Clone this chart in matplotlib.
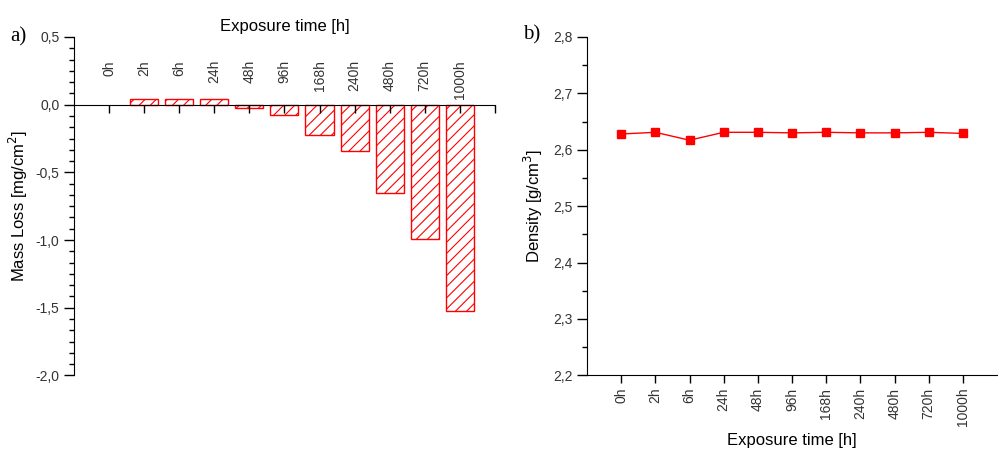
import matplotlib

matplotlib.use("Agg")
import matplotlib.pyplot as plt
from matplotlib.ticker import FixedLocator, FuncFormatter, MultipleLocator

plt.rcParams["font.family"] = ["Liberation Sans", "DejaVu Sans"]
plt.rcParams["hatch.linewidth"] = 0.8

times = ["0h", "2h", "6h", "24h", "48h", "96h", "168h", "240h", "480h", "720h", "1000h"]
mass_loss = [0.0, 0.044, 0.044, 0.044, -0.027, -0.079, -0.221, -0.342, -0.652, -0.994, -1.528]
density = [2.628, 2.631, 2.617, 2.631, 2.631, 2.630, 2.631, 2.630, 2.630, 2.631, 2.629]

RED = "#ff0000"
TICK_COLOR = "#333333"


def comma_fmt(v, _pos):
    return f"{v:.1f}".replace(".", ",")


fig = plt.figure(figsize=(9.98, 4.49), dpi=100)
ax1 = fig.add_axes([0.0741, 0.164, 0.4218, 0.7536])
ax2 = fig.add_axes([0.5882, 0.164, 0.4108, 0.7536])

idx = list(range(len(times)))

# a) mass loss bars (a zero value draws no bar)
bar_idx = [i for i, v in zip(idx, mass_loss) if v != 0]
bar_val = [v for v in mass_loss if v != 0]
ax1.bar(bar_idx, bar_val, width=0.8, facecolor="white", edgecolor=RED,
        hatch="///", linewidth=1.0)
ax1.set_xlim(-1, len(times))
ax1.set_ylim(-2.0, 0.5)
ax1.spines["top"].set_visible(False)
ax1.spines["right"].set_visible(False)
ax1.spines["bottom"].set_position(("data", 0))
ax1.xaxis.set_major_locator(FixedLocator(list(range(len(times) + 1))))
ax1.tick_params(axis="x", labelbottom=False, direction="out", length=6, width=1)
for i, t in enumerate(times):
    ax1.text(i, 0.33, t, rotation=90, ha="center", va="top",
             fontsize=10, color=TICK_COLOR)
ax1.yaxis.set_major_locator(MultipleLocator(0.5))
ax1.yaxis.set_minor_locator(MultipleLocator(0.5 / 6))
ax1.yaxis.set_major_formatter(FuncFormatter(comma_fmt))
ax1.tick_params(axis="y", which="major", length=7, width=1, labelsize=10,
                labelcolor=TICK_COLOR)
ax1.tick_params(axis="y", which="minor", length=3.5, width=1)
ax1.set_ylabel("Mass Loss [mg/cm$^2$]", fontsize=12, labelpad=4)
ax1.set_title("Exposure time [h]", fontsize=12, pad=4)
fig.text(0.01, 0.918, "a)", family="Liberation Serif", fontsize=15, va="center")

# b) density
ax2.plot(idx, density, color=RED, linewidth=1.0, marker="s", markersize=6,
         markerfacecolor=RED, markeredgecolor=RED)
ax2.set_xlim(-1, len(times))
ax2.set_ylim(2.2, 2.8)
ax2.spines["top"].set_visible(False)
ax2.spines["right"].set_visible(False)
ax2.xaxis.set_major_locator(FixedLocator(idx))
ax2.set_xticklabels(times, rotation=90, fontsize=10, color=TICK_COLOR)
ax2.tick_params(axis="x", direction="out", length=6, width=1, pad=3)
ax2.yaxis.set_major_locator(MultipleLocator(0.1))
ax2.yaxis.set_minor_locator(MultipleLocator(0.05))
ax2.yaxis.set_major_formatter(FuncFormatter(comma_fmt))
ax2.tick_params(axis="y", which="major", length=7, width=1, labelsize=10,
                labelcolor=TICK_COLOR)
ax2.tick_params(axis="y", which="minor", length=3.5, width=1)
ax2.set_ylabel("Density [g/cm$^3$]", fontsize=12, labelpad=6)
ax2.set_xlabel("Exposure time [h]", fontsize=12, labelpad=5)
fig.text(0.524, 0.923, "b)", family="Liberation Serif", fontsize=15, va="center")

fig.savefig("out.png", dpi=100)
plt.close(fig)
